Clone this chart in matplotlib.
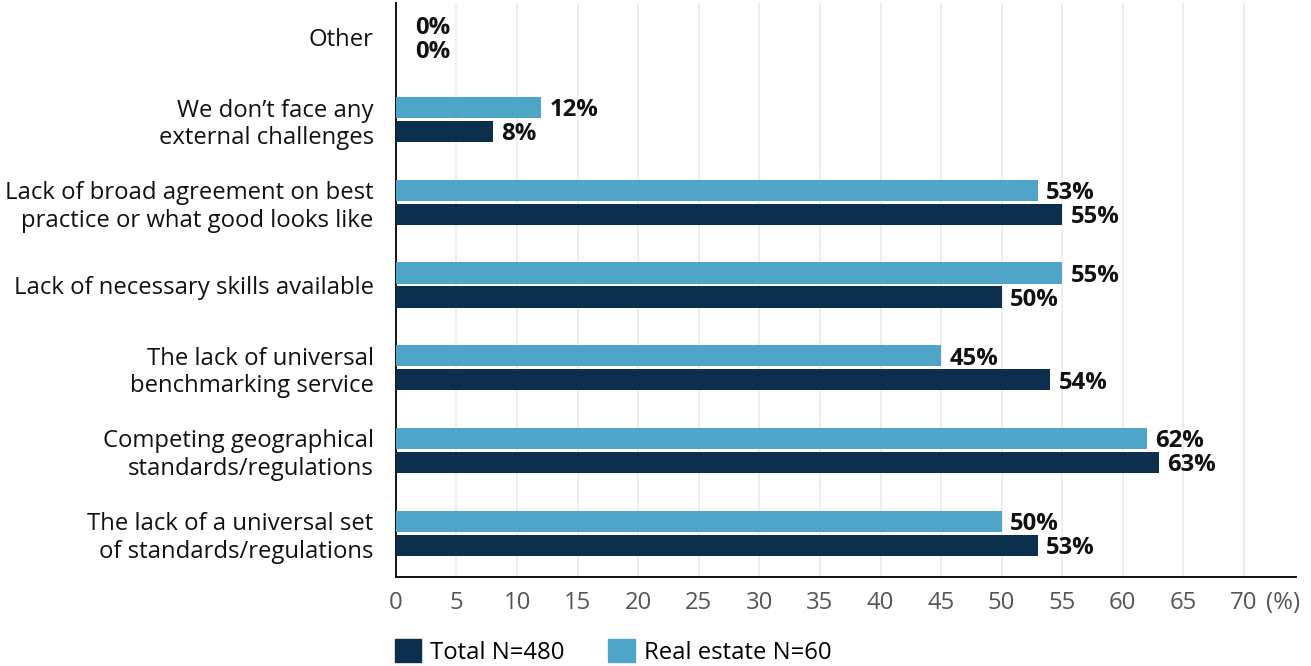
import numpy as np
import matplotlib.pyplot as plt
from matplotlib.patches import Patch

plt.rcParams['font.family'] = ['Open Sans', 'DejaVu Sans']

categories = [
    "Other",
    "We don\u2019t face any\nexternal challenges",
    "Lack of broad agreement on best\npractice or what good looks like",
    "Lack of necessary skills available",
    "The lack of universal\nbenchmarking service",
    "Competing geographical\nstandards/regulations",
    "The lack of a universal set\nof standards/regulations",
]
real_estate = [0, 12, 53, 55, 45, 62, 50]
total = [0, 8, 55, 50, 54, 63, 53]
xticks = list(range(0, 75, 5))

dark = "#0c2f4e"
light = "#4fa5c8"
fs = 17.2

fig = plt.figure(figsize=(13.11, 6.66), dpi=100)
ax = fig.add_axes([0.302, 0.1336, 0.6866, 0.862])

n = len(categories)
y = np.arange(n)[::-1]
h = 0.255
off = 0.145

b_re = ax.barh(y + off, real_estate, height=h, color=light, zorder=3)
b_tot = ax.barh(y - off, total, height=h, color=dark, zorder=3)

for bars, vals in ((b_re, real_estate), (b_tot, total)):
    for bar, v in zip(bars, vals):
        pad = 14 if v == 0 else 6
        ax.annotate(f"{v}%", (bar.get_width(), bar.get_y() + bar.get_height() / 2),
                    xytext=(pad, -2), textcoords="offset points",
                    ha="left", va="center", fontsize=fs, fontweight="bold",
                    color="#111111")

ax.set_yticks(y)
ax.set_yticklabels(categories, fontsize=fs, color="#111111", linespacing=1.2)
ax.set_xticks(xticks)
ax.set_xticklabels([str(t) for t in xticks], fontsize=fs, color="#555555")

xpad = 10
ax.annotate("(%)", xy=(70, 0), xycoords=("data", "axes fraction"),
            xytext=(16, -xpad), textcoords="offset points",
            ha="left", va="top", fontsize=fs, color="#555555")

ax.set_xlim(0, 74.3)
ax.set_ylim(-0.53, n - 1 + 0.41)
ax.tick_params(axis="both", length=0)
ax.tick_params(axis="x", pad=xpad)
ax.tick_params(axis="y", pad=16)

ax.grid(axis="x", color="#ebebeb", linewidth=1.2, zorder=0)
for s in ("top", "right"):
    ax.spines[s].set_visible(False)
for s in ("left", "bottom"):
    ax.spines[s].set_color("#111111")
    ax.spines[s].set_linewidth(1.4)

handles = [Patch(color=dark, label="Total N=480"),
           Patch(color=light, label="Real estate N=60")]
fig.legend(handles=handles, loc="lower left", bbox_to_anchor=(0.290, -0.02),
           ncol=2, frameon=False, fontsize=fs, handlelength=1.12,
           handleheight=1.12, handletextpad=0.38, columnspacing=1.82,
           borderaxespad=0.2)

fig.savefig("out.png", dpi=100)
